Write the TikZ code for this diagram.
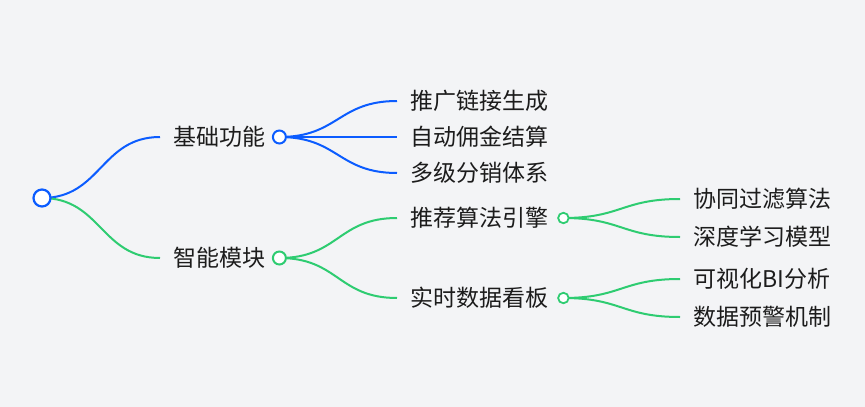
\documentclass[tikz,border=0pt]{standalone}
\usepackage{fontspec}
\setmainfont{Noto Sans CJK SC}
\usetikzlibrary{positioning}
\definecolor{bluebr}{HTML}{0B5CFF}
\definecolor{greenbr}{HTML}{2ECC71}
\definecolor{bgcol}{HTML}{F3F4F6}
\definecolor{txtcol}{HTML}{1C1C1C}
\pgfdeclarelayer{back}
\pgfdeclarelayer{bg}
\pgfsetlayers{back,bg,main}

\begin{document}
\begin{tikzpicture}[x=1pt, y=-1pt, topic/.style={anchor=west, inner xsep=13pt, inner ysep=0pt, text=txtcol, font=\fontsize{23}{27}\selectfont}, dot/.style={circle, fill=white, inner sep=0pt, line width=2pt, minimum size=13pt}, rootdot/.style={dot, line width=2.2pt, minimum size=17pt}, smalldot/.style={dot, line width=1.8pt, minimum size=10.5pt}, branch/.style={line width=2pt}]

\begin{pgfonlayer}{back}
\fill[bgcol] (0,0) rectangle (865,407);
\end{pgfonlayer}
\useasboundingbox (0,0) rectangle (865,407);

% root
\node[rootdot, draw=bluebr] (root) at (42,198) {};

% level 1
\node[topic] (jichu) at (160,137) {基础功能};
\node[dot, draw=bluebr] (jichu-d) at ([xshift=1pt]jichu.east) {};
\node[topic] (zhineng) at (160,258) {智能模块};
\node[dot, draw=greenbr] (zhineng-d) at ([xshift=1pt]zhineng.east) {};

% level 2
\node[topic] (tuiguang) at (397,101) {推广链接生成};
\node[topic] (yongjin) at (397,137) {自动佣金结算};
\node[topic] (fenxiao) at (397,173) {多级分销体系};
\node[topic] (tuijian) at (397,218) {推荐算法引擎};
\node[smalldot, draw=greenbr] (tuijian-d) at ([xshift=2pt]tuijian.east) {};
\node[topic] (kanban) at (397,298) {实时数据看板};
\node[smalldot, draw=greenbr] (kanban-d) at ([xshift=2pt]kanban.east) {};

% level 3
\node[topic] (xietong) at (680,199) {协同过滤算法};
\node[topic] (shendu) at (680,237) {深度学习模型};
\node[topic] (keshihua) at (680,279) {可视化BI分析};
\node[topic] (yujing) at (680,317) {数据预警机制};

\begin{pgfonlayer}{bg}
\draw[branch, bluebr] (root.center) .. controls +(59,0) and +(-59,0) .. (jichu.west);
\draw[branch, greenbr] (root.center) .. controls +(59,0) and +(-59,0) .. (zhineng.west);
\draw[branch, bluebr] (jichu-d.center) .. controls +(59,0) and +(-59,0) .. (tuiguang.west);
\draw[branch, bluebr] (jichu-d.center) -- (yongjin.west);
\draw[branch, bluebr] (jichu-d.center) .. controls +(59,0) and +(-59,0) .. (fenxiao.west);
\draw[branch, greenbr] (zhineng-d.center) .. controls +(59,0) and +(-59,0) .. (tuijian.west);
\draw[branch, greenbr] (zhineng-d.center) .. controls +(59,0) and +(-59,0) .. (kanban.west);
\draw[branch, greenbr] (tuijian-d.center) .. controls +(58,0) and +(-58,0) .. (xietong.west);
\draw[branch, greenbr] (tuijian-d.center) .. controls +(58,0) and +(-58,0) .. (shendu.west);
\draw[branch, greenbr] (kanban-d.center) .. controls +(58,0) and +(-58,0) .. (keshihua.west);
\draw[branch, greenbr] (kanban-d.center) .. controls +(58,0) and +(-58,0) .. (yujing.west);
\end{pgfonlayer}
\end{tikzpicture}
\end{document}
